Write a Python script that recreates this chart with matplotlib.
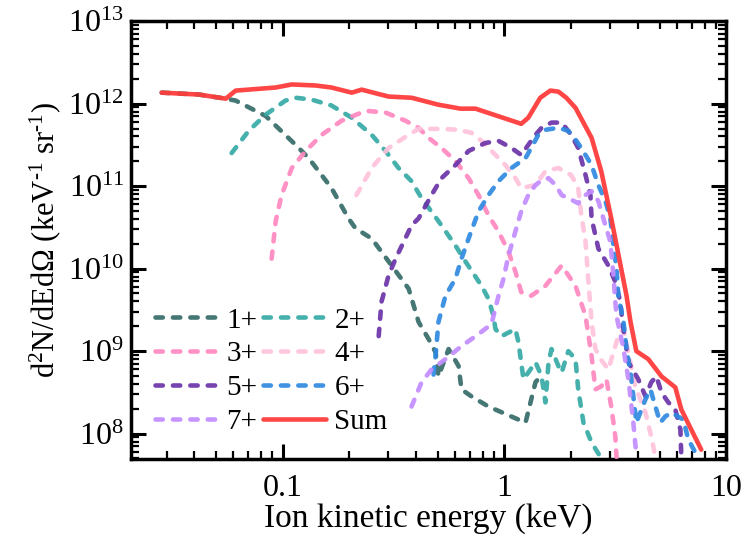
import numpy as np
import matplotlib
matplotlib.use("Agg")
import matplotlib.pyplot as plt
from matplotlib.ticker import LogLocator, FixedLocator, FixedFormatter, NullFormatter

plt.rcParams['font.family'] = ['Liberation Serif', 'DejaVu Serif']
plt.rcParams['mathtext.fontset'] = 'custom'
plt.rcParams['mathtext.rm'] = 'Liberation Serif'
plt.rcParams['mathtext.it'] = 'Liberation Serif:italic'
plt.rcParams['mathtext.bf'] = 'Liberation Serif:bold'

# ---- data ----
e_1 = [0.0285, 0.0419, 0.0554, 0.0614, 0.0838, 0.1145, 0.131, 0.166, 0.198, 0.213, 0.252, 0.310,
       0.370, 0.410, 0.455, 0.489, 0.504, 0.560, 0.621, 0.640, 0.710, 0.847, 1.076, 1.244, 1.38, 1.44]
y_1 = [1.36e12, 1.29e12, 1.15e12, 1.09e12, 7.1e11, 3.16e11, 2.19e11, 9.5e10, 4.07e10, 3.08e10, 2.32e10, 1.09e10,
       5.7e9, 2.26e9, 1.40e9, 9.7e8, 4.95e8, 1.06e9, 6.6e8, 3.44e8, 2.83e8, 2.13e8, 1.61e8, 1.36e8, 4.2e8, 4.8e8]

e_2 = [0.0589, 0.0703, 0.0838, 0.103, 0.1145, 0.135, 0.166, 0.205, 0.252, 0.291, 0.333, 0.381, 0.423,
       0.505, 0.601, 0.667, 0.788, 0.847, 0.892, 0.911, 0.969, 1.12, 1.156, 1.218, 1.28, 1.38, 1.47, 1.53,
       1.58, 1.63, 1.75, 1.81, 1.94, 2.09, 2.15, 2.27, 2.47, 2.71]
y_2 = [2.52e11, 4.69e11, 7.35e11, 1.09e12, 1.18e12, 1.12e12, 9.5e11, 6.75e11, 4.19e11, 2.67e11, 1.66e11, 1.15e11, 7.15e10,
       3.74e10, 1.91e10, 1.22e10, 6.2e9, 4.3e9, 2.67e9, 1.85e9, 1.52e9, 1.85e9, 1.29e9, 4.56e8, 5.5e8, 7.35e8, 4.95e8, 2.39e8,
       7.35e8, 1.06e9, 6.6e8, 5.5e8, 1.0e9, 8.0e8, 3.44e8, 1.36e8, 7.8e7, 5.2e7]

e_3 = [0.0892, 0.093, 0.0989, 0.110, 0.127, 0.150, 0.184, 0.237, 0.291, 0.358, 0.410, 0.455, 0.520, 0.601,
       0.689, 0.764, 0.847, 0.940, 1.042, 1.12, 1.19, 1.32, 1.53, 1.81, 2.09, 2.32, 2.47, 2.57, 2.73, 2.88,
       3.03, 3.16, 3.2]
y_3 = [1.32e10, 3.74e10, 7.8e10, 1.66e11, 2.67e11, 4.19e11, 6.2e11, 8.2e11, 7.8e11, 6.2e11, 5.1e11, 3.85e11, 2.9e11, 2.02e11,
       1.25e11, 7.8e10, 4.43e10, 2.82e10, 1.61e10, 9.2e9, 5.2e9, 4.69e9, 6.2e9, 1.09e10, 6.2e9, 2.67e9, 8.7e8, 3.44e8, 3.74e8, 4.56e8,
       2.13e8, 9.2e7, 5.2e7]

e_4 = [0.215, 0.252, 0.300, 0.370, 0.410, 0.520, 0.621, 0.710, 0.788, 0.911, 1.01, 1.12, 1.19, 1.38, 1.53,
       1.75, 2.0, 2.15, 2.22, 2.32, 2.39, 2.47, 2.57, 2.71, 2.94, 3.26, 3.44, 3.89, 4.32, 4.59, 4.79]
y_4 = [7.8e10, 1.66e11, 2.9e11, 4.19e11, 4.95e11, 4.95e11, 4.82e11, 4.43e11, 3.54e11, 2.39e11, 1.8e11, 1.25e11, 9.5e10, 1.03e11, 1.52e11,
       1.66e11, 1.36e11, 9.5e10, 4.43e10, 2.13e10, 6.9e9, 2.26e9, 1.06e9, 8.0e8, 6.0e8, 1.52e9, 1.85e9, 3.74e8, 1.8e8, 9.2e7, 5.2e7]

e_5 = [0.271, 0.279, 0.300, 0.323, 0.381, 0.410, 0.469, 0.520, 0.601, 0.689, 0.821, 0.940, 1.076, 1.19, 1.28,
       1.38, 1.47, 1.63, 1.81, 2.0, 2.15, 2.32, 2.44, 2.47, 2.65, 2.94, 3.16, 3.33, 3.40, 3.62, 4.01, 4.32,
       4.59, 4.84, 5.10, 5.48, 5.89, 6.21, 6.27]
y_5 = [1.52e9, 3.96e9, 8.2e9, 1.32e10, 3.34e10, 4.07e10, 7.8e10, 1.25e11, 1.8e11, 2.67e11, 3.34e11, 3.54e11, 2.9e11, 2.39e11, 3.16e11,
       4.19e11, 5.1e11, 5.9e11, 5.9e11, 4.19e11, 2.9e11, 1.36e11, 7.8e10, 4.07e10, 1.75e10, 1.09e10, 6.9e9, 3.96e9, 2.26e9, 7.35e8, 4.56e8, 2.83e8,
       4.2e8, 4.95e8, 3.16e8, 2.39e8, 1.96e8, 1.12e8, 5.2e7]

e_6 = [0.479, 0.489, 0.504, 0.542, 0.601, 0.640, 0.689, 0.764, 0.847, 0.940, 1.076, 1.244, 1.32, 1.42, 1.53,
       1.75, 1.94, 2.11, 2.22, 2.47, 2.65, 2.85, 3.0, 3.10, 3.20, 3.26, 3.44, 3.55, 3.70, 3.81, 3.93, 4.32,
       4.55, 4.79, 5.04, 5.30, 5.65, 6.40, 6.74, 7.25]
y_6 = [5.2e8, 8.7e8, 2.26e9, 4.69e9, 7.55e9, 1.32e10, 2.32e10, 4.95e10, 7.8e10, 1.15e11, 1.66e11, 2.19e11, 2.9e11, 4.19e11, 4.82e11,
       5.1e11, 4.69e11, 3.54e11, 2.9e11, 1.8e11, 1.03e11, 6.6e10, 4.07e10, 1.91e10, 1.0e10, 4.69e9, 2.26e9, 1.06e9, 5.5e8, 2.83e8, 1.36e8, 2.6e8,
       3.44e8, 2.13e8, 1.36e8, 1.61e8, 1.8e8, 1.48e8, 8.5e7, 5.9e7]

e_7 = [0.381, 0.423, 0.469, 0.542, 0.640, 0.764, 0.874, 0.940, 0.99, 1.042, 1.12, 1.19, 1.28, 1.38, 1.47,
       1.58, 1.70, 1.81, 1.94, 2.15, 2.32, 2.47, 2.65, 2.85, 3.0, 3.10, 3.16, 3.20, 3.44, 3.62, 3.81, 3.93]
y_7 = [2.13e8, 4.2e8, 6.0e8, 8.0e8, 1.15e9, 1.61e9, 2.13e9, 4.69e9, 7.55e9, 1.44e10, 2.82e10, 4.95e10, 7.8e10, 1.03e11, 1.18e11,
       1.25e11, 1.03e11, 7.8e10, 7.15e10, 6.2e10, 7.8e10, 8.7e10, 6.6e10, 3.34e10, 2.13e10, 8.2e9, 3.96e9, 2.67e9, 1.06e9, 4.56e8, 1.36e8, 5.5e7]

e_sum = [0.0285, 0.0419, 0.0554, 0.0614, 0.093, 0.110, 0.141, 0.166, 0.205, 0.227, 0.300, 0.381, 0.505, 0.634,
         0.740, 1.19, 1.28, 1.45, 1.61, 1.75, 1.90, 2.09, 2.47, 2.73, 3.03, 3.55, 3.70, 3.93, 4.45, 5.10,
         5.89, 6.27, 6.95, 7.71]
y_sum = [1.36e12, 1.29e12, 1.15e12, 1.44e12, 1.57e12, 1.71e12, 1.66e12, 1.57e12, 1.36e12, 1.48e12, 1.22e12, 1.18e12, 9.7e11, 8.7e11,
         8.7e11, 5.7e11, 6.75e11, 1.18e12, 1.44e12, 1.40e12, 1.18e12, 8.9e11, 3.85e11, 1.52e11, 4.07e10, 4.69e9, 2.26e9, 1.0e9, 8.0e8, 4.95e8,
         3.64e8, 1.96e8, 1.12e8, 6.4e7]

labels = ['1+', '2+', '3+', '4+', '5+', '6+', '7+', 'Sum']
colors = ['#356b69', '#36aba5', '#ff88c0', '#ffc3dc', '#6a33a8', '#2f89e0', '#c38cff', '#ff3c3c']
series = [(e_1, y_1), (e_2, y_2), (e_3, y_3), (e_4, y_4), (e_5, y_5), (e_6, y_6), (e_7, y_7), (e_sum, y_sum)]

xticks = [0.1, 1, 10]
xticklabels = ['0.1', '1', '10']

# ---- figure ----
fig = plt.figure(figsize=(7.48, 5.43), dpi=100)
ax = fig.add_axes([0.175, 0.155, 0.796, 0.806])

handles = []
for (xe, yv), lab, col in zip(series, labels, colors):
    if lab == 'Sum':
        h, = ax.plot(xe, yv, color=col, lw=3.3, alpha=0.95, solid_capstyle='round',
                     solid_joinstyle='round', zorder=5, label=lab)
    else:
        h, = ax.plot(xe, yv, color=col, lw=3.3, alpha=0.92, linestyle=(0, (1.6, 2.2)),
                     dash_capstyle='round', zorder=3, label=lab)
    handles.append(h)

ax.set_xscale('log')
ax.set_yscale('log')
ax.set_xlim(0.0207, 10)
ax.set_ylim(4.95e7, 1e13)

ax.xaxis.set_major_locator(FixedLocator(xticks))
ax.xaxis.set_major_formatter(FixedFormatter(xticklabels))
ax.xaxis.set_minor_locator(LogLocator(base=10, subs=np.arange(2, 10), numticks=100))
ax.xaxis.set_minor_formatter(NullFormatter())
ax.yaxis.set_major_locator(LogLocator(base=10, numticks=20))
ax.yaxis.set_minor_locator(LogLocator(base=10, subs=np.arange(2, 10), numticks=100))
ax.yaxis.set_minor_formatter(NullFormatter())

for s in ax.spines.values():
    s.set_linewidth(2.5)
ax.tick_params(which='both', direction='in', top=True, right=True)
ax.tick_params(which='major', length=11, width=2.2, labelsize=23)
ax.tick_params(which='minor', length=6, width=1.6)
ax.tick_params(axis='x', which='major', pad=11)
ax.tick_params(axis='y', which='major', pad=5)

ax.set_xlabel('Ion kinetic energy (keV)', fontsize=24, labelpad=0)
ax.set_ylabel(r'd$^{2}$N/dEd$\Omega$ (keV$^{\text{-1}}$ sr$^{\text{-1}}$)', fontsize=22, labelpad=4)

# legend: 2 columns, entries ordered row-wise as in the reference
idx = [0, 2, 4, 6, 1, 3, 5, 7]
leg = ax.legend([handles[i] for i in idx], [labels[i] for i in idx], ncol=2, loc='lower left',
                bbox_to_anchor=(0.04, 0.055), frameon=False, fontsize=21, handlelength=2.15,
                handletextpad=0.3, columnspacing=0.2, labelspacing=0.25, borderpad=0.0,
                borderaxespad=0.0)

fig.savefig('out.png', dpi=100)
